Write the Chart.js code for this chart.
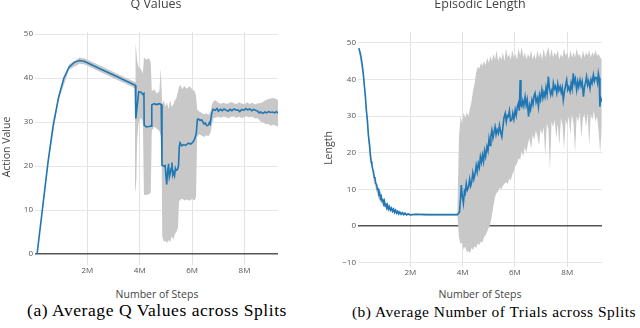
<!DOCTYPE html>
<html>
<head>
<meta charset="utf-8">
<script src="https://cdn.jsdelivr.net/npm/chart.js@4.4.1/dist/chart.umd.min.js"></script>
<style>
  body { margin: 0; width: 640px; height: 328px; overflow: hidden; position: relative; background: #fff; font-family: "Open Sans", sans-serif; }
  canvas { position: absolute; top: 0; }
  .t { position: absolute; white-space: nowrap; text-align: center; color: #444; }
  .title { font-size: 12.5px; line-height: 12.5px; width: 200px; top: -2px; }
  .xt { font-size: 10.5px; line-height: 12px; width: 200px; top: 288px; }
  .yt { font-size: 10.5px; line-height: 12px; width: 100px; height: 12px; transform: rotate(-90deg); }
  .cap { font-family: "Liberation Serif", serif; font-size: 16px; line-height: 16px; color: #000; text-align: left; }
</style>
</head>
<body>
<canvas id="qChart" width="300" height="285" style="left:0"></canvas>
<canvas id="lenChart" width="300" height="287" style="left:320px"></canvas>

<div class="t title" style="left:56px">Q Values</div>
<div class="t title" style="left:380px">Episodic Length</div>
<div class="t xt" style="left:57px">Number of Steps</div>
<div class="t xt" style="left:380px">Number of Steps</div>
<div class="t yt" style="left:-44.5px;top:141px">Action Value</div>
<div class="t yt" style="left:278px;top:141.5px">Length</div>
<div class="t cap" data-x="27" data-w="260">(a) Average Q Values across Splits</div>
<div class="t cap" data-x="352" data-w="284">(b) Average Number of Trials across Splits</div>

<script>
// tick values (steps in millions)
const xTickVals = [2, 4, 6, 8];
const qYTicks = [0, 10, 20, 30, 40, 50];
const lenYTicks = [-10, 0, 10, 20, 30, 40, 50];

// Q values: mean curve
const qMeanX = [0.08, 0.3, 0.5, 0.7, 0.9, 1.1, 1.3, 1.5, 1.7, 1.9, 2.5, 3.0, 3.5, 3.83,
  3.85, 3.9, 3.96, 4.05, 4.12, 4.16, 4.17, 4.25, 4.35, 4.43, 4.46, 4.55, 4.65, 4.75, 4.82,
  4.85, 4.92, 4.97, 5.01, 5.03, 5.06, 5.1, 5.13, 5.16, 5.2, 5.23, 5.26, 5.29, 5.33, 5.36, 5.39,
  5.44, 5.48, 5.51, 5.54, 5.6, 5.67, 5.75, 5.86, 5.95, 6.05, 6.11, 6.16, 6.2, 6.24, 6.3, 6.37,
  6.45, 6.5, 6.56, 6.62, 6.66, 6.69, 6.75, 6.8, 6.88, 6.95, 7.0, 7.08, 7.15, 7.22, 7.3, 7.38,
  7.45, 7.52, 7.6, 7.68, 7.75, 7.82, 7.9, 7.98, 8.05, 8.12, 8.2, 8.28, 8.35, 8.42, 8.5, 8.56,
  8.62, 8.7, 8.78, 8.85, 8.92, 9.0, 9.08, 9.15, 9.22, 9.28];
const qMean = [0, 11, 21, 29.5, 35.6, 40.0, 42.5, 43.6, 44.0, 43.8, 42.1, 40.7, 39.3, 38.4,
  30.8, 33.5, 36.9, 36.8, 36.3, 36.5, 29.3, 28.9, 29.0, 29.1, 33.9, 34.2, 34.0, 34.2, 34.0,
  20.2, 20.0, 20.1, 17.0, 15.8, 18.5, 20.5, 17.5, 18.2, 19.5, 20.8, 18.0, 18.6, 17.8, 19.5, 19.0,
  19.2, 20.0, 24.5, 25.3, 24.6, 24.9, 24.7, 25.2, 25.0, 25.6, 26.4, 27.5, 30.6, 30.7, 30.4, 30.5,
  29.6, 29.8, 29.2, 29.3, 29.9, 29.6, 32.0, 32.9, 32.7, 33.1, 32.5, 32.9, 32.6, 33.0, 32.7, 32.5,
  32.9, 32.6, 33.0, 32.7, 32.8, 32.4, 32.9, 32.7, 33.1, 32.8, 33.0, 32.6, 32.9, 32.7, 32.5, 32.1,
  32.3, 32.0, 32.3, 32.1, 32.4, 32.2, 32.3, 32.1, 32.4, 32.0];

// Q values: spread across splits
const qBandX = [0.08, 0.5, 0.9, 1.3, 1.7, 1.9, 2.5, 3.0, 3.5, 3.82,
  3.84, 3.87, 3.9, 3.96, 4.05, 4.12, 4.16, 4.25, 4.35, 4.42, 4.46, 4.55, 4.65, 4.75, 4.8, 4.83,
  4.86, 4.92, 4.98, 5.04, 5.1, 5.16, 5.22, 5.28, 5.34, 5.4, 5.46, 5.5, 5.55, 5.62, 5.7, 5.8, 5.9,
  6.0, 6.1, 6.15, 6.19, 6.25, 6.35, 6.45, 6.55, 6.62, 6.7, 6.76, 6.82, 6.9, 7.0, 7.1, 7.2, 7.3,
  7.4, 7.5, 7.6, 7.7, 7.8, 7.9, 8.0, 8.1, 8.2, 8.3, 8.4, 8.5, 8.6, 8.7, 8.8, 8.9, 9.0, 9.1, 9.2, 9.28];
const qLow = [-0.3, 20.5, 35.0, 41.9, 43.3, 43.1, 41.4, 40.0, 38.6, 37.7,
  14.5, 17, 26, 30, 31, 30, 13.5, 13.4, 13.6, 14, 28, 29, 28.5, 28, 27, 26,
  4, 2.8, 3.0, 2.5, 3.2, 2.7, 4, 3.3, 4.5, 5, 6, 12, 12.3, 12.6, 12.2, 12.4, 12.1,
  12.5, 12.2, 13, 26.5, 27.2, 27, 26.6, 27, 26.8, 27.5, 29.5, 31, 31, 31.2, 31.0, 31.3, 31.1,
  30.9, 31.3, 31.2, 31.0, 31.3, 30.9, 31.2, 31.3, 31.1, 31.2, 30.8, 30.9, 30.2, 30.0, 29.5, 29.6, 29.2, 29.4, 29.2, 29.0];
const qHigh = [0.3, 21.5, 36.3, 43.1, 44.7, 44.5, 42.8, 41.4, 40.0, 39.1,
  48.0, 46, 44, 42.5, 42, 41, 44.7, 44.2, 44.6, 43.5, 37, 37.5, 36.5, 37, 42.3, 38,
  34, 35, 33.5, 34.5, 33, 35, 33.5, 34, 35, 35.5, 37, 38, 38.5, 37.5, 38.2, 37.6, 38.2,
  37.5, 37.0, 36, 33, 32.5, 32.2, 31.8, 32, 31.6, 32.3, 34, 34.8, 35, 34.4, 34.2, 34.4, 34.2,
  34.3, 34.6, 34.3, 34.1, 34.5, 34.2, 34.1, 34.5, 34.1, 34.4, 34.0, 34.3, 34.3, 34.6, 35, 35.2, 35.4, 35.5, 35.3, 35.0];

// Episodic length: mean curve
const lenMeanX = [0.03, 0.08, 0.12, 0.16, 0.2, 0.24, 0.28, 0.32, 0.36, 0.4, 0.44, 0.47,
  0.50, 0.53, 0.56, 0.59, 0.62, 0.65, 0.68, 0.71, 0.74, 0.77, 0.80, 0.83, 0.86, 0.89, 0.92,
  0.95, 0.98, 1.01, 1.04, 1.07, 1.10, 1.13, 1.16, 1.20, 1.24, 1.28, 1.32, 1.36, 1.40, 1.44,
  1.48, 1.52, 1.56, 1.60, 1.65, 1.70, 1.75, 1.80, 1.86, 1.92, 2.0, 2.2, 2.6, 3.0, 3.4, 3.8,
  3.88, 3.92, 3.95, 3.99, 4.03, 4.07, 4.1, 4.14, 4.18, 4.23, 4.27, 4.31, 4.35, 4.39, 4.43, 4.48,
  4.52, 4.56, 4.6, 4.64, 4.68, 4.72, 4.76, 4.8, 4.84, 4.88, 4.93, 4.97, 5.01, 5.05, 5.08, 5.12,
  5.16, 5.2, 5.24, 5.28, 5.32, 5.37, 5.41, 5.45, 5.5, 5.54, 5.58, 5.63, 5.67, 5.71, 5.75, 5.79,
  5.83, 5.88, 5.92, 5.96, 6.01, 6.05, 6.09, 6.13, 6.17, 6.2, 6.23, 6.26, 6.3, 6.34, 6.39, 6.43,
  6.47, 6.52, 6.56, 6.6, 6.65, 6.69, 6.73, 6.77, 6.81, 6.86, 6.9, 6.94, 6.98, 7.03, 7.07, 7.11,
  7.15, 7.19, 7.23, 7.28, 7.32, 7.37, 7.41, 7.44, 7.47, 7.51, 7.55, 7.6, 7.64, 7.68, 7.73, 7.77,
  7.81, 7.85, 7.9, 7.94, 7.98, 8.02, 8.06, 8.11, 8.15, 8.19, 8.23, 8.27, 8.31, 8.36, 8.4, 8.44,
  8.49, 8.53, 8.57, 8.62, 8.66, 8.7, 8.74, 8.78, 8.82, 8.87, 8.91, 8.95, 9.0, 9.04, 9.08, 9.13,
  9.16, 9.19, 9.22, 9.25, 9.28, 9.32];
const lenMean = [48.6, 47.4, 46.0, 44.0, 41.8, 38.6, 35.6, 31.6, 28.8, 24.6, 22.3, 19.5,
  17.6, 16.8, 15.6, 14.9, 13.4, 13.0, 11.6, 11.4, 10.0, 10.1, 8.7, 9.0, 7.6, 8.1, 6.8,
  7.4, 6.1, 6.8, 5.5, 6.2, 5.0, 5.7, 4.6, 5.3, 4.3, 4.9, 4.0, 4.6, 3.7, 4.3,
  3.5, 4.0, 3.3, 3.8, 3.2, 3.6, 3.1, 3.5, 3.0, 3.3, 3.0, 3.2, 3.1, 3.15, 3.1, 3.1,
  3.8, 7.5, 11.2, 8.0, 6.2, 9.5, 8.9, 11.5, 9.8, 10.7, 12.8, 11.0, 12.1, 14.5, 12.8, 14.4,
  16.5, 14.8, 17.1, 16.0, 18.9, 17.4, 19.4, 17.6, 20.5, 19.0, 21.7, 20.5, 23.8, 22.0, 24.5, 26.2,
  24.0, 25.5, 27.1, 25.0, 26.3, 25.3, 27.5, 25.8, 24.4, 27.0, 29.5, 30.8, 28.5, 30.2, 29.9, 31.5,
  28.7, 29.0, 30.8, 29.2, 31.7, 30.2, 32.5, 33.5, 31.5, 39.9, 33.0, 32.6, 34.2, 32.8, 35.3, 33.0,
  34.5, 29.9, 33.0, 31.8, 34.4, 33.2, 35.5, 36.3, 33.8, 35.0, 32.6, 35.8, 34.5, 37.2, 35.0, 36.5,
  35.3, 37.8, 36.0, 40.8, 37.5, 35.8, 37.0, 36.2, 39.0, 37.5, 38.2, 36.3, 38.8, 37.0, 38.1, 36.5,
  37.8, 34.4, 37.0, 38.5, 39.9, 37.2, 38.0, 36.7, 39.0, 37.5, 41.7, 39.0, 40.2, 37.2, 39.5, 38.0,
  39.9, 38.3, 39.5, 35.3, 38.0, 39.2, 40.8, 38.5, 39.6, 37.6, 40.0, 39.0, 41.3, 39.5, 40.6, 40.4,
  39.2, 41.7, 40.5, 32.6, 35.0, 34.0];

// Episodic length: spread across splits
const lenBandX = [0.03, 0.2, 0.4, 0.6, 0.8, 1.0, 1.3, 1.6, 2.0, 3.0, 3.8,
  3.86, 3.92, 3.98, 4.04, 4.1, 4.16, 4.22, 4.28, 4.34, 4.4, 4.46, 4.52, 4.58, 4.64, 4.7, 4.76,
  4.82, 4.88, 4.94, 5.0, 5.06, 5.12, 5.18, 5.24, 5.3, 5.36, 5.42, 5.48, 5.54, 5.6, 5.66, 5.72,
  5.78, 5.84, 5.9, 5.96, 6.02, 6.08, 6.14, 6.2, 6.26, 6.32, 6.38, 6.44, 6.5, 6.56, 6.62, 6.68,
  6.74, 6.8, 6.86, 6.92, 6.98, 7.04, 7.1, 7.16, 7.22, 7.28, 7.34, 7.4, 7.46, 7.52, 7.58, 7.64,
  7.7, 7.76, 7.82, 7.88, 7.94, 8.0, 8.06, 8.12, 8.18, 8.24, 8.3, 8.36, 8.42, 8.48, 8.54, 8.6,
  8.66, 8.72, 8.78, 8.84, 8.9, 8.96, 9.02, 9.08, 9.14, 9.2, 9.26, 9.32];
const lenLow = [47.8, 40.5, 22.5, 12.2, 7.2, 5.2, 4.0, 3.3, 2.9, 2.9, 2.9,
  -3, -5, -4.5, -6.5, -5.5, -7.2, -6.8, -7.4, -6, -6.5, -5.5, -6, -4.8, -5.2, -4.2, -4.5,
  -3, -2.5, -1.5, -0.5, 0.5, 3, 5.5, 8, 9, 9.5, 10.5, 10, 11, 11.5, 12, 11.5,
  13, 12.5, 14, 15, 16.5, 17, 18.5, 18, 20.5, 19, 21.5, 20, 22.5, 24, 21, 25,
  23.5, 26, 24.5, 22, 26.5, 25, 27, 19, 28, 26.5, 15, 28.5, 27, 29, 24, 28,
  22, 29.5, 27.5, 21, 29, 27.5, 30, 25, 30.5, 28, 20, 30, 28.5, 31, 24, 29.5,
  30.5, 27, 31, 22, 30.5, 29, 31.5, 28.5, 30, 26, 20, 27];
const lenHigh = [49.4, 42.8, 25.5, 14.2, 8.6, 6.2, 4.8, 3.9, 3.4, 3.3, 3.3,
  24, 30, 28, 31, 29.5, 31, 30, 32, 34, 37, 39, 42, 43.5, 43, 44.5, 43.8,
  45, 44, 46, 44.5, 46.5, 45, 47, 45.5, 48, 45, 46.5, 45.5, 47.5, 45, 48.5, 46,
  47, 45.5, 48, 46, 47, 45.5, 48.5, 46.5, 49, 46, 47.5, 45.5, 47, 46, 48, 45.5,
  47, 45.5, 48, 46, 47.5, 45.5, 48.5, 46, 47.5, 49, 46, 48.5, 46, 47.5, 46.5, 48,
  45.5, 47, 46, 48.5, 46.5, 47.5, 45.5, 48, 46, 47.5, 46, 48.5, 46.5, 47, 45.5, 48,
  46, 47.5, 46.5, 48, 46, 47.5, 46.5, 48, 46.5, 47, 46, 45.5];

const pts = (xs, ys) => xs.map((x, i) => ({ x: x, y: ys[i] }));
const tickFont = { family: 'Open Sans', size: 8 };
const minus = v => (v < 0 ? '\u2212' + Math.abs(v) : String(v));

function makeChart(id, cfg) {
  new Chart(document.getElementById(id), {
    type: 'line',
    data: {
      datasets: [
        { data: pts(cfg.meanX, cfg.mean), borderColor: '#1f77b4', borderWidth: 1.6, pointRadius: 0, fill: false, order: 0 },
        { data: pts(cfg.bandX, cfg.low), borderColor: 'transparent', borderWidth: 0, pointRadius: 0, fill: false, order: 2 },
        { data: pts(cfg.bandX, cfg.high), borderColor: 'transparent', borderWidth: 0, pointRadius: 0, backgroundColor: '#c8c8c8', fill: '-1', order: 1 }
      ]
    },
    options: {
      responsive: false,
      animation: false,
      layout: { padding: { top: 32, right: cfg.padRight, left: 0, bottom: 0 } },
      plugins: { legend: { display: false }, tooltip: { enabled: false } },
      elements: { line: { tension: 0 } },
      scales: {
        x: {
          type: 'linear', min: 0, max: cfg.xMax,
          afterBuildTicks: s => { s.ticks = xTickVals.map(v => ({ value: v })); },
          afterFit: s => { s.height = cfg.xHeight; },
          border: { display: false },
          grid: { color: '#e2e2e2', drawTicks: false },
          ticks: { padding: 1, color: '#555', font: tickFont, maxRotation: 0, autoSkip: false, callback: v => v + 'M' }
        },
        y: {
          min: cfg.yMin, max: cfg.yMax,
          afterBuildTicks: s => { s.ticks = cfg.yTicks.map(v => ({ value: v })); },
          afterFit: s => { s.width = cfg.yWidth; },
          border: { display: false },
          grid: {
            drawTicks: false,
            color: c => (c.tick && c.tick.value === 0 ? '#555' : '#e6e6e6'),
            lineWidth: c => (c.tick && c.tick.value === 0 ? 1.5 : 1)
          },
          ticks: { padding: 2, color: '#555', font: tickFont, callback: minus }
        }
      }
    }
  });
}

makeChart('qChart', {
  meanX: qMeanX, mean: qMean, bandX: qBandX, low: qLow, high: qHigh,
  xMax: 9.28, yMin: -2.5, yMax: 50.5, yTicks: qYTicks,
  padRight: 22, yWidth: 35, xHeight: 20
});
makeChart('lenChart', {
  meanX: lenMeanX, mean: lenMean, bandX: lenBandX, low: lenLow, high: lenHigh,
  xMax: 9.33, yMin: -11.2, yMax: 53, yTicks: lenYTicks,
  padRight: 18, yWidth: 38, xHeight: 20
});

// size the captions so they span the same width as in the figure
document.querySelectorAll('.cap').forEach(el => {
  const target = +el.dataset.w;
  const n = el.textContent.length;
  const size = 16 * 0.93 * target / el.getBoundingClientRect().width;
  el.style.fontSize = size + 'px';
  el.style.lineHeight = size + 'px';
  el.style.letterSpacing = ((target - el.getBoundingClientRect().width) / n) + 'px';
  el.style.left = el.dataset.x + 'px';
  // baseline near y = 317
  el.style.top = (317 - 0.87 * size) + 'px';
});
</script>
</body>
</html>
